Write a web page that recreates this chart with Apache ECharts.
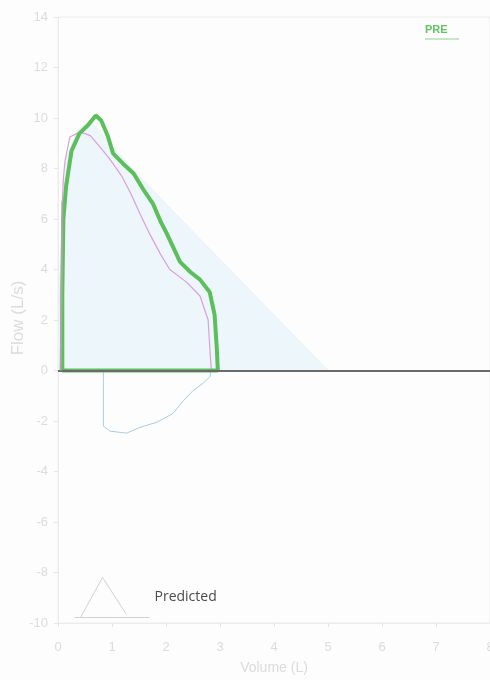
<!DOCTYPE html>
<html>
<head>
<meta charset="utf-8">
<script src="https://cdn.jsdelivr.net/npm/echarts@6/dist/echarts.min.js"></script>
<style>
  html, body { margin: 0; padding: 0; background: #fdfdfd; }
  #chart { width: 490px; height: 680px; }
</style>
</head>
<body>
<div id="chart"></div>
<script>
// flow-volume loop, volume (L) vs flow (L/s)
const predicted = [
  [0, 0], [0.05, 5], [0.15, 8.4], [0.35, 9.5], [0.6, 9.9], [1.0, 8.9],
  [1.5, 7.7], [2.0, 6.6], [2.5, 5.5], [3.0, 4.4], [3.5, 3.3], [4.0, 2.2],
  [4.5, 1.1], [5.0, 0]
];
const preCurve = [
  [0.08, 0], [0.08, 3], [0.1, 6], [0.15, 7.3], [0.25, 8.7], [0.4, 9.4],
  [0.55, 9.7], [0.7, 10.1], [0.8, 9.9], [0.92, 9.3], [1.02, 8.6], [1.2, 8.2],
  [1.4, 7.8], [1.6, 7.1], [1.76, 6.6], [1.9, 5.9], [2.02, 5.4], [2.26, 4.3],
  [2.45, 3.9], [2.63, 3.6], [2.81, 3.1], [2.9, 2.2], [2.94, 0.9], [2.96, 0],
  [0.08, 0]
];
const pinkCurve = [
  [0.08, 6.7], [0.1, 7.6], [0.13, 8.3], [0.22, 9.25], [0.41, 9.45], [0.6, 9.3],
  [0.78, 8.85], [0.95, 8.4], [1.18, 7.7], [1.35, 7.0], [1.52, 6.2], [1.7, 5.4],
  [1.9, 4.6], [2.07, 4.0], [2.38, 3.5], [2.63, 2.95], [2.78, 2.0], [2.82, 0.6],
  [2.84, 0]
];
const grayStart = [[0.05, 0], [0.06, 2], [0.07, 4], [0.08, 6.7]];
const inspCurve = [
  [0.84, 0], [0.84, -2.2], [0.96, -2.4], [1.27, -2.48], [1.52, -2.25],
  [1.83, -2.05], [2.13, -1.7], [2.32, -1.2], [2.5, -0.8], [2.69, -0.5],
  [2.81, -0.25], [2.84, 0]
];

const chart = echarts.init(document.getElementById('chart'));

const option = {
  animation: false,
  backgroundColor: '#fdfdfd',
  grid: {
    left: 58, right: 0, top: 17, bottom: 57,
    outerBoundsMode: 'none', containLabel: false,
    show: true, borderColor: '#ececec', borderWidth: 1
  },
  legend: {
    data: ['Predicted'],
    left: 67, top: 570,
    itemWidth: 75, itemHeight: 40,
    icon: 'path://M0,40 L75,40 M6,40 L28,0 L52,37',
    itemStyle: { color: 'none', borderColor: '#d2d2d2', borderWidth: 1 },
    textStyle: { color: '#4a4a4a', fontSize: 14, fontFamily: 'Open Sans', padding: [12, 0, 0, 0] }
  },
  xAxis: {
    type: 'value', min: 0, max: 8, interval: 1,
    name: 'Volume (L)', nameLocation: 'middle', nameGap: 38,
    nameTextStyle: { color: '#dcdcdc', fontSize: 14 },
    axisLine: { onZero: false, lineStyle: { color: '#ececec' } },
    axisTick: { show: true, length: 4, lineStyle: { color: '#e6e6e6' } },
    axisLabel: { color: '#dcdcdc', fontSize: 13, margin: 18 },
    splitLine: { show: false }
  },
  yAxis: {
    type: 'value', min: -10, max: 14, interval: 2,
    axisLine: { show: true, lineStyle: { color: '#ececec' } },
    axisTick: { show: true, length: 4, lineStyle: { color: '#e6e6e6' } },
    axisLabel: { color: '#dcdcdc', fontSize: 13, margin: 10 },
    splitLine: { show: false }
  },
  graphic: [
    { type: 'text', x: 18, y: 318, rotation: Math.PI / 2,
      style: { text: 'Flow (L/s)', fill: '#dcdcdc', fontSize: 17,
               align: 'center', verticalAlign: 'middle' } },
    { type: 'text', left: 425, top: 24,
      style: { text: 'PRE', fill: '#62c462', fontSize: 11, fontWeight: 'bold' } },
    { type: 'line', shape: { x1: 425, y1: 39, x2: 459, y2: 39 },
      style: { stroke: '#8fd08f', lineWidth: 1 } }
  ],
  series: [
    {
      name: 'Predicted', type: 'line', data: predicted,
      showSymbol: false, z: 1,
      lineStyle: { color: '#e8f3f9', width: 1 },
      areaStyle: { color: '#ecf6fb', opacity: 1 }
    },
    {
      name: 'Inspiration', type: 'line', data: inspCurve,
      showSymbol: false, z: 3,
      lineStyle: { color: '#a9cde2', width: 1 }
    },
    {
      name: 'Trial', type: 'line', data: pinkCurve,
      showSymbol: false, z: 3,
      lineStyle: { color: '#dd9ddd', width: 1.2 }
    },
    {
      name: 'PRE', type: 'line', data: preCurve,
      showSymbol: false, z: 4,
      lineStyle: { color: '#5cbf5c', width: 4 }
    },
    {
      name: 'Start', type: 'line', data: grayStart,
      showSymbol: false, z: 6,
      lineStyle: { color: '#a8a8a8', width: 2 },
      markLine: {
        silent: true, symbol: 'none', label: { show: false },
        lineStyle: { color: '#6a6a6a', width: 2, type: 'solid' },
        data: [{ yAxis: 0 }]
      }
    }
  ]
};

chart.setOption(option);
</script>
</body>
</html>
